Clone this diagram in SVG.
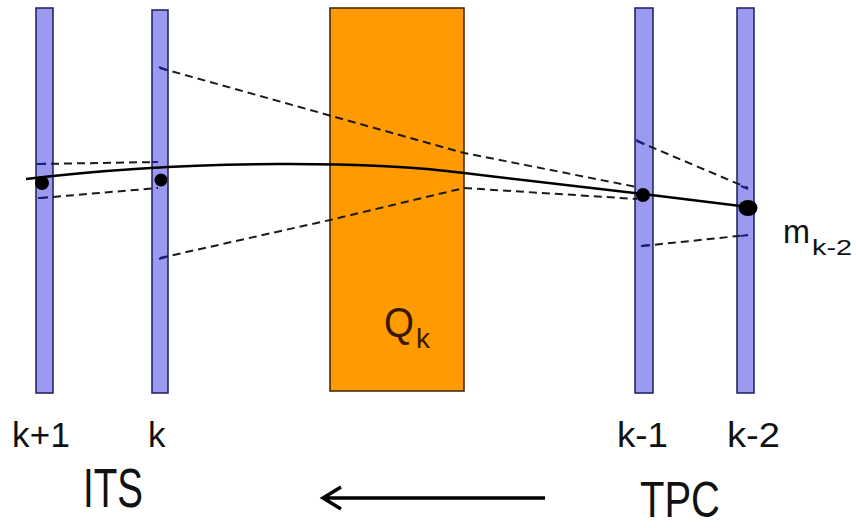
<svg xmlns="http://www.w3.org/2000/svg" width="856" height="528" viewBox="0 0 856 528">
<defs>
<style>
.plate{fill:#9a9af0;stroke:#1c1c5a;stroke-width:1.5}
.abs{fill:#ff9a00;stroke:#3a2200;stroke-width:1.5}
.hit{fill:#000}
.dash{fill:none;stroke:#1a1a1a;stroke-width:2;stroke-dasharray:8 5}
.tick{stroke:#1c1c8a;stroke-width:2}
.track{fill:none;stroke:#000;stroke-width:2.5}
.lbl{font-family:"Liberation Sans",Arial,sans-serif;fill:#111}
.idx{font-size:35px}
</style>
</defs>
<rect width="856" height="528" fill="#fff"/>
<g id="plate-kp1">
<rect class="plate" x="36" y="8" width="17" height="385"/>
<text class="lbl idx" x="12" y="447" textLength="58" lengthAdjust="spacing">k+1</text>
</g>
<g id="plate-k">
<rect class="plate" x="152" y="10" width="16" height="383"/>
<text class="lbl idx" x="148" y="447">k</text>
</g>
<g id="absorber">
<rect class="abs" x="330" y="8" width="134" height="383"/>
<text x="384" y="337" font-family="'Liberation Sans',Arial,sans-serif" font-size="43" fill="#3a1800" textLength="30" lengthAdjust="spacingAndGlyphs">Q</text>
<text x="416" y="348" font-family="'Liberation Sans',Arial,sans-serif" font-size="27" fill="#3a1800" textLength="14" lengthAdjust="spacingAndGlyphs">k</text>
</g>
<g id="plate-km1">
<rect class="plate" x="635" y="8" width="18" height="385"/>
<text class="lbl idx" x="617" y="447" textLength="51" lengthAdjust="spacingAndGlyphs">k-1</text>
</g>
<g id="plate-km2">
<rect class="plate" x="737" y="8" width="17" height="385"/>
<text class="lbl idx" x="727" y="447" textLength="53" lengthAdjust="spacingAndGlyphs">k-2</text>
<text class="lbl" x="783" y="243" font-size="34" textLength="27" lengthAdjust="spacingAndGlyphs">m</text>
<text class="lbl" x="812" y="255" font-size="22" textLength="40" lengthAdjust="spacingAndGlyphs">k-2</text>
</g>
<g id="det-its">
<text class="lbl" x="83" y="507" font-size="55" textLength="60" lengthAdjust="spacingAndGlyphs">ITS</text>
</g>
<g id="det-tpc">
<text class="lbl" x="640" y="517" font-size="50" textLength="80" lengthAdjust="spacingAndGlyphs">TPC</text>
</g>
<g id="connectors">
<path class="dash" d="M38,164 L158,162"/>
<path class="dash" d="M40,198 L158,188"/>
<path class="dash" d="M160,68 L464,153 L637,187"/>
<path class="dash" d="M160,258 L330,220 L464,188 L637,199"/>
<path class="dash" d="M637,141 L748,188"/>
<path class="dash" d="M642,246 L748,235"/>
<g class="tick">
<line x1="37" y1="164" x2="45" y2="164"/>
<line x1="38" y1="198" x2="45" y2="198"/>
<line x1="152" y1="162" x2="158" y2="162"/>
<line x1="159" y1="67" x2="166" y2="70"/>
<line x1="159" y1="259" x2="166" y2="257"/>
<line x1="636" y1="140" x2="644" y2="144"/>
<line x1="641" y1="246" x2="649" y2="245"/>
<line x1="741" y1="186" x2="748" y2="189"/>
<line x1="741" y1="236" x2="748" y2="235"/>
</g>
<path class="track" d="M26,179 C200,158 380,162 464,173 L643,194 L757,208"/>
<circle class="hit" cx="42" cy="183" r="7"/>
<circle class="hit" cx="161" cy="180" r="6.5"/>
<circle class="hit" cx="643" cy="195" r="7"/>
<ellipse class="hit" cx="748" cy="208" rx="9.5" ry="8"/>
<path d="M545,498 L323,498 M341,487 L323,498 L341,509" fill="none" stroke="#000" stroke-width="3.5"/>
</g>
</svg>
